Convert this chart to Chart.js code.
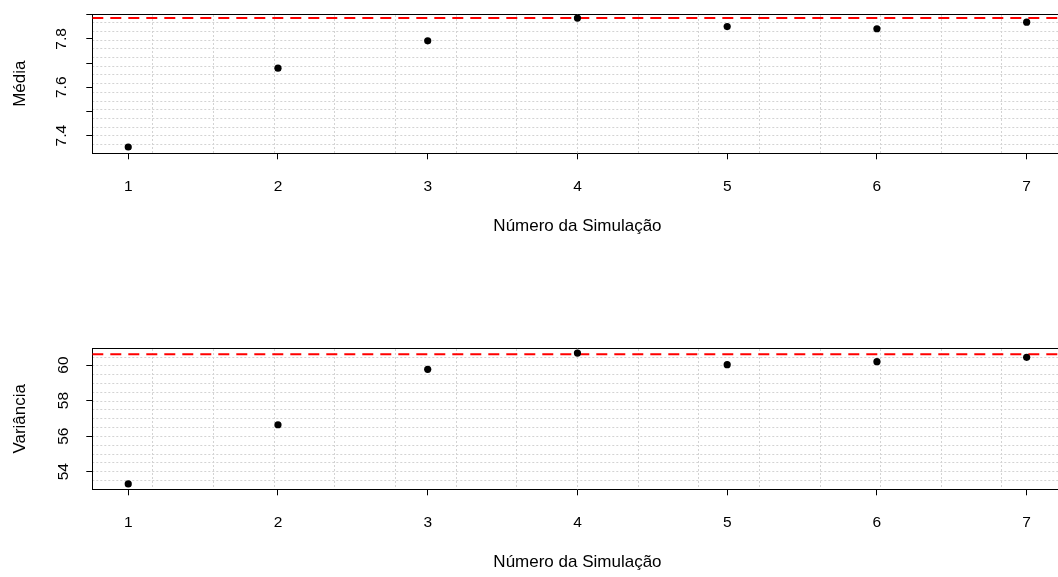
<!DOCTYPE html>
<html>
<head>
<meta charset="utf-8">
<script src="https://cdn.jsdelivr.net/npm/chart.js@4.4.1/dist/chart.umd.min.js"></script>
<style>
  html, body { margin: 0; padding: 0; background: #fff; overflow: hidden; }
  canvas { position: absolute; left: 0; }
</style>
</head>
<body>
<canvas id="media" width="1080" height="290" style="top:0px"></canvas>
<canvas id="variancia" width="1080" height="287" style="top:290px"></canvas>
<script>
// valores
var simulacoes = [1, 2, 3, 4, 5, 6, 7];
var medias = [7.353, 7.679, 7.792, 7.886, 7.851, 7.842, 7.869];
var variancias = [53.31, 56.64, 59.76, 60.67, 60.02, 60.19, 60.43];
var mediaReal = 7.886;
var varianciaReal = 60.6;

var mediaTicks = [7.4, 7.5, 7.6, 7.7, 7.8, 7.9];
var mediaTickLabels = ['7.4', '', '7.6', '', '7.8', ''];
var varTicks = [54, 56, 58, 60];
var varTickLabels = ['54', '56', '58', '60'];

var xLim = [0.76, 7.24];
var mediaLim = [7.327, 7.903];
var varLim = [53.01, 60.94];

Chart.defaults.font.family = "'Liberation Sans', Arial, sans-serif";
Chart.defaults.color = '#000';

// linhas internas do grid() do R (16 divisoes)
function divisoes(lim, n) {
    var out = [];
    for (var k = 1; k < n; k++) out.push({value: lim[0] + k * (lim[1] - lim[0]) / n});
    return out;
}

function painel(id, valores, referencia, yLim, yTicks, yLabels, yTitulo, lay) {
    var pontos = simulacoes.map(function(x, i) { return {x: x, y: valores[i]}; });
    new Chart(document.getElementById(id), {
        type: 'scatter',
        data: {
            datasets: [{
                data: pontos,
                pointRadius: 3.6,
                pointBorderWidth: 0,
                backgroundColor: '#000',
                borderColor: '#000',
                order: 1
            }, {
                data: [{x: xLim[0], y: referencia}, {x: xLim[1], y: referencia}],
                showLine: true,
                pointRadius: 0,
                borderColor: '#ff0000',
                borderWidth: 2,
                borderDash: [11, 7],
                order: 2
            }]
        },
        options: {
            responsive: false,
            animation: false,
            layout: {padding: {top: lay.top, right: 17.4, left: 0, bottom: 0}},
            plugins: {legend: {display: false}, tooltip: {enabled: false}},
            scales: {
                x: {
                    type: 'linear', position: 'bottom', min: xLim[0], max: xLim[1],
                    afterBuildTicks: function(s) { s.ticks = simulacoes.map(function(v) { return {value: v}; }); },
                    afterFit: function(s) { s.height = lay.xHeight; s.paddingLeft = 0; s.paddingRight = 0; },
                    grid: {drawOnChartArea: false, color: '#000', tickLength: 6},
                    border: {color: '#000', width: 1},
                    ticks: {autoSkip: false, maxRotation: 0, padding: 18, font: {size: 15.5},
                        callback: function(v) { return String(v); }},
                    title: {display: true, text: 'Número da Simulação', font: {size: 17},
                        padding: {top: 0, bottom: lay.titleBottom}}
                },
                x2: {
                    type: 'linear', axis: 'x', position: 'top', min: xLim[0], max: xLim[1],
                    afterBuildTicks: function(s) { s.ticks = divisoes(xLim, 16); },
                    afterFit: function(s) { s.height = 0; s.paddingLeft = 0; s.paddingRight = 0; },
                    grid: {color: '#d3d3d3', lineWidth: 1, drawTicks: false},
                    border: {color: '#000', width: 1, dash: [2, 2]},
                    ticks: {display: false}
                },
                y: {
                    type: 'linear', position: 'left', min: yLim[0], max: yLim[1],
                    afterBuildTicks: function(s) { s.ticks = yTicks.map(function(v) { return {value: v}; }); },
                    afterFit: function(s) { s.width = 92.3; s.paddingTop = 0; s.paddingBottom = 0; },
                    grid: {drawOnChartArea: false, color: '#000', tickLength: 6},
                    border: {color: '#000', width: 1},
                    ticks: {autoSkip: false, minRotation: 90, maxRotation: 90, crossAlign: 'center',
                        padding: 14, font: {size: 15.5},
                        callback: function(v, i) { return yLabels[i]; }},
                    title: {display: true, text: yTitulo, font: {size: 17}, padding: {top: 10, bottom: 0}}
                },
                y2: {
                    type: 'linear', axis: 'y', position: 'right', min: yLim[0], max: yLim[1],
                    afterBuildTicks: function(s) { s.ticks = divisoes(yLim, 16); },
                    afterFit: function(s) { s.width = 0; s.paddingTop = 0; s.paddingBottom = 0; },
                    grid: {color: '#d3d3d3', lineWidth: 1, drawTicks: false},
                    border: {display: false, dash: [2, 2]},
                    ticks: {display: false}
                }
            }
        }
    });
}

painel('media', medias, mediaReal, mediaLim, mediaTicks, mediaTickLabels, 'Média',
    {top: 14, xHeight: 136.7, titleBottom: 53.8});
painel('variancia', variancias, varianciaReal, varLim, varTicks, varTickLabels, 'Variância',
    {top: 58.3, xHeight: 87.7, titleBottom: 4.8});
</script>
</body>
</html>
